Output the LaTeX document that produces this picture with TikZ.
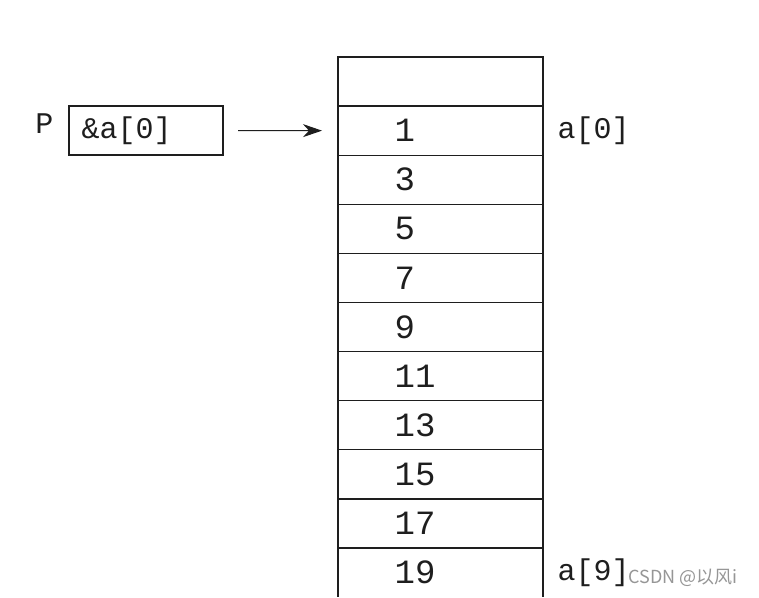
\documentclass[tikz,border=0pt]{standalone}
\usepackage{fontspec}
\setmainfont{Liberation Mono}
\newfontfamily\cjk{Noto Sans CJK SC}
\usetikzlibrary{arrows.meta}
\definecolor{ink}{RGB}{30,30,30}
\definecolor{wm}{RGB}{150,150,150}
\begin{document}
\begin{tikzpicture}[x=1pt,y=-1pt,
  line width=1.3pt,
  cell/.style={draw=ink, minimum width=205pt, minimum height=49.1pt, inner sep=0pt, outer sep=0pt},
  num/.style={font=\fontsize{34}{34}\selectfont, text=ink, anchor=west, inner sep=0pt},
  lab/.style={font=\fontsize{30}{30}\selectfont, text=ink, anchor=west, inner sep=0pt}]
\useasboundingbox (0,0) rectangle (759,597);
\fill[white] (0,0) rectangle (759,597);
\foreach \i in {0,...,9} {
  \node[cell] (c\i) at (440.5, {57+49.1*(\i+0.5)}) {};
}
\coordinate (c10) at (440.5, 572.6);
\coordinate (bl) at (338, 597);
\coordinate (br) at (543, 597);
\draw[ink] (c9.south west) -- (bl);
\draw[ink] (c9.south east) -- (br);
\foreach \v [count=\k] in {1,3,5,7,9,11,13,15,17,19} {
  \node[num] (n\k) at (394, {57+49.1*(\k+0.5)}) {\v};
}
\node[cell, minimum width=154pt, minimum height=49pt] (p) at (146,130.6) {};
\node[lab] (pt) at (81,130.6) {\&a[0]};
\node[lab, anchor=east] (pl) at (54,124) {P};
\draw[ink, line width=1.1pt, -{Stealth[length=19pt,width=13pt,inset=6pt]}, shorten <=15pt, shorten >=16pt] (p.east) -- (c1.west);
\node[lab] (a0) at (557,130.6) {a[0]};
\node[lab] (a9) at (557,572.6) {a[9]};
\node[font=\cjk\fontsize{18}{18}\selectfont, text=wm, anchor=west, inner sep=0pt] (w) at (628,578) {CSDN @以风i};
\end{tikzpicture}
\end{document}
